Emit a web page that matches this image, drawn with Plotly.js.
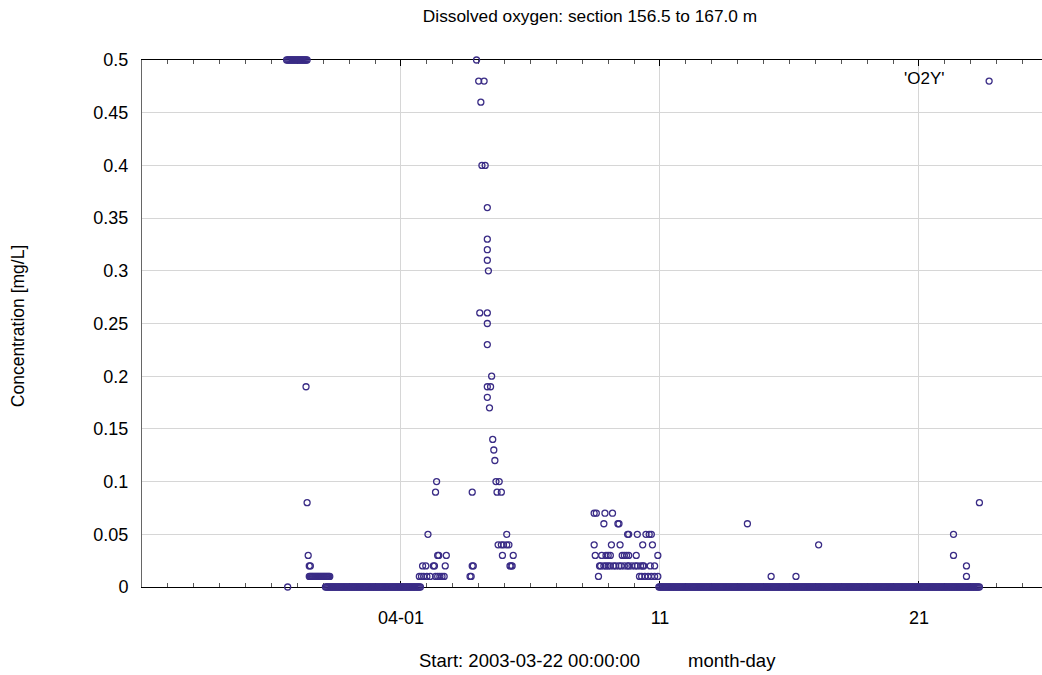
<!DOCTYPE html>
<html>
<head>
<meta charset="utf-8">
<script src="https://cdn.plot.ly/plotly-3.0.1.min.js"></script>
<style>
  html, body { margin: 0; padding: 0; background: #fff; }
  #chart { width: 1042px; height: 675px; }
</style>
</head>
<body>
<div id="chart"></div>
<script>
// Dissolved oxygen readings over the 156.5-167.0 m section.
// Times are hours after the series start (2003-03-22 00:00:00).
const seriesStart = Date.UTC(2003, 2, 22, 0, 0, 0);

// Late March: saturated readings, then a drop towards zero
const hoursMarch = [134,135,136,137,138,139,140,141,142,143,
  144,145,146,147,148,149,150,151,152,153,
  135,
  152,153,154,155,156,
  155,156,157,158,159,160,161,162,163,164,
  165,166,167,168,169,170,171,172,173,174];
const concMarch = [0.5,0.5,0.5,0.5,0.5,0.5,0.5,0.5,0.5,0.5,
  0.5,0.5,0.5,0.5,0.5,0.5,0.5,0.5,0.5,0.5,
  0,
  0.19,0.08,0.03,0.02,0.02,
  0.01,0.01,0.01,0.01,0.01,0.01,0.01,0.01,0.01,0.01,
  0.01,0.01,0.01,0.01,0.01,0.01,0.01,0.01,0.01,0.01];

// Late March to 1 April: hourly zero readings
const hoursZeroMarch = [170,171,172,173,174,175,176,177,178,179,
  180,181,182,183,184,185,186,187,188,189,
  190,191,192,193,194,195,196,197,198,199,
  200,201,202,203,204,205,206,207,208,209,
  210,211,212,213,214,215,216,217,218,219,
  220,221,222,223,224,225,226,227,228,229,
  230,231,232,233,234,235,236,237,238,239,
  240,241,242,243,244,245,246,247,248,249,
  250,251,252,253,254,255,256,257,258];
const concZeroMarch = [0,0,0,0,0,0,0,0,0,0,
  0,0,0,0,0,0,0,0,0,0,
  0,0,0,0,0,0,0,0,0,0,
  0,0,0,0,0,0,0,0,0,0,
  0,0,0,0,0,0,0,0,0,0,
  0,0,0,0,0,0,0,0,0,0,
  0,0,0,0,0,0,0,0,0,0,
  0,0,0,0,0,0,0,0,0,0,
  0,0,0,0,0,0,0,0,0];

// Early April: the main peak
const hoursEarlyApril = [257,259,261,264,267,272,274,276,278,280,304,305,
  260,263,270,271,281,306,307,341,342,343,
  274,275,282,334,344,
  330,333,335,338,340,
  265,338,
  272,306,329,333,
  273,328,331,
  327,326,325,
  322,320,320,323,324,
  320,320,313,320,
  321,320,320,320,320,
  315,318,314,312,317,310];
const concEarlyApril = [0.01,0.01,0.01,0.01,0.01,0.01,0.01,0.01,0.01,0.01,0.01,0.01,
  0.02,0.02,0.02,0.02,0.02,0.02,0.02,0.02,0.02,0.02,
  0.03,0.03,0.03,0.03,0.03,
  0.04,0.04,0.04,0.04,0.04,
  0.05,0.05,
  0.09,0.09,0.09,0.09,
  0.1,0.1,0.1,
  0.12,0.13,0.14,
  0.17,0.18,0.19,0.19,0.2,
  0.23,0.25,0.26,0.26,
  0.3,0.31,0.32,0.33,0.36,
  0.4,0.4,0.46,0.48,0.48,0.5];

// April 9-11: low readings before the long zero run
const hoursMidApril = [419,421,429,436,
  428,441,442,
  450,451,459,467,470,472,
  419,435,443,464,473,
  420,426,430,432,434,445,447,449,451,458,478,
  424,425,428,430,432,434,437,439,442,444,447,450,451,454,457,459,462,464,465,471,475,
  423,461,463,466,469,472,475,478];
const concMidApril = [0.07,0.07,0.07,0.07,
  0.06,0.06,0.06,
  0.05,0.05,0.05,0.05,0.05,0.05,
  0.04,0.04,0.04,0.04,0.04,
  0.03,0.03,0.03,0.03,0.03,0.03,0.03,0.03,0.03,0.03,0.03,
  0.02,0.02,0.02,0.02,0.02,0.02,0.02,0.02,0.02,0.02,0.02,0.02,0.02,0.02,0.02,0.02,0.02,0.02,0.02,0.02,0.02,
  0.01,0.01,0.01,0.01,0.01,0.01,0.01,0.01];

// 11 to 24 April: hourly zero readings
const hoursZeroApril = [479,
  480,481,482,483,484,485,486,487,488,489,
  490,491,492,493,494,495,496,497,498,499,
  500,501,502,503,504,505,506,507,508,509,
  510,511,512,513,514,515,516,517,518,519,
  520,521,522,523,524,525,526,527,528,529,
  530,531,532,533,534,535,536,537,538,539,
  540,541,542,543,544,545,546,547,548,549,
  550,551,552,553,554,555,556,557,558,559,
  560,561,562,563,564,565,566,567,568,569,
  570,571,572,573,574,575,576,577,578,579,
  580,581,582,583,584,585,586,587,588,589,
  590,591,592,593,594,595,596,597,598,599,
  600,601,602,603,604,605,606,607,608,609,
  610,611,612,613,614,615,616,617,618,619,
  620,621,622,623,624,625,626,627,628,629,
  630,631,632,633,634,635,636,637,638,639,
  640,641,642,643,644,645,646,647,648,649,
  650,651,652,653,654,655,656,657,658,659,
  660,661,662,663,664,665,666,667,668,669,
  670,671,672,673,674,675,676,677,678,679,
  680,681,682,683,684,685,686,687,688,689,
  690,691,692,693,694,695,696,697,698,699,
  700,701,702,703,704,705,706,707,708,709,
  710,711,712,713,714,715,716,717,718,719,
  720,721,722,723,724,725,726,727,728,729,
  730,731,732,733,734,735,736,737,738,739,
  740,741,742,743,744,745,746,747,748,749,
  750,751,752,753,754,755,756,757,758,759,
  760,761,762,763,764,765,766,767,768,769,
  770,771,772,773,774,775,776];
const concZeroApril = [0,
  0,0,0,0,0,0,0,0,0,0,
  0,0,0,0,0,0,0,0,0,0,
  0,0,0,0,0,0,0,0,0,0,
  0,0,0,0,0,0,0,0,0,0,
  0,0,0,0,0,0,0,0,0,0,
  0,0,0,0,0,0,0,0,0,0,
  0,0,0,0,0,0,0,0,0,0,
  0,0,0,0,0,0,0,0,0,0,
  0,0,0,0,0,0,0,0,0,0,
  0,0,0,0,0,0,0,0,0,0,
  0,0,0,0,0,0,0,0,0,0,
  0,0,0,0,0,0,0,0,0,0,
  0,0,0,0,0,0,0,0,0,0,
  0,0,0,0,0,0,0,0,0,0,
  0,0,0,0,0,0,0,0,0,0,
  0,0,0,0,0,0,0,0,0,0,
  0,0,0,0,0,0,0,0,0,0,
  0,0,0,0,0,0,0,0,0,0,
  0,0,0,0,0,0,0,0,0,0,
  0,0,0,0,0,0,0,0,0,0,
  0,0,0,0,0,0,0,0,0,0,
  0,0,0,0,0,0,0,0,0,0,
  0,0,0,0,0,0,0,0,0,0,
  0,0,0,0,0,0,0,0,0,0,
  0,0,0,0,0,0,0,0,0,0,
  0,0,0,0,0,0,0,0,0,0,
  0,0,0,0,0,0,0,0,0,0,
  0,0,0,0,0,0,0,0,0,0,
  0,0,0,0,0,0,0,0,0,0,
  0,0,0,0,0,0,0];

// Late April: isolated readings above zero
const hoursLateApril = [561,583,606,627,752,752,764,764,776,785];
const concLateApril = [0.06,0.01,0.01,0.04,0.03,0.05,0.02,0.01,0.08,0.48];

// Axis labelling
const majorTickDates = ['2003-04-01', '2003-04-11', '2003-04-21'];
const majorTickText = ['04-01', '11', '21'];
const axisStartLabel = 'Start: 2003-03-22 00:00:00';
const axisUnitLabel = 'month-day';
const seriesName = "'O2Y'";

function toDateString(h) {
  const iso = new Date(seriesStart + h * 3600e3).toISOString();
  return iso.slice(0, 19).replace('T', ' ');
}

const allHours = [].concat(hoursMarch, hoursZeroMarch, hoursEarlyApril,
  hoursMidApril, hoursZeroApril, hoursLateApril);
const allConc = [].concat(concMarch, concZeroMarch, concEarlyApril,
  concMidApril, concZeroApril, concLateApril);

const markColor = '#3a2c86';
const font = 'Liberation Sans, Arial, sans-serif';

const trace = {
  type: 'scatter',
  mode: 'markers',
  name: seriesName,
  x: allHours.map(toDateString),
  y: allConc,
  cliponaxis: false,
  marker: {
    symbol: 'circle-open',
    size: 6,
    color: markColor,
    line: { width: 1.3, color: markColor }
  },
  hoverinfo: 'x+y'
};

const layout = {
  width: 1042,
  height: 675,
  margin: { l: 142, r: 0, t: 60, b: 88 },
  paper_bgcolor: '#fff',
  plot_bgcolor: '#fff',
  showlegend: false,
  font: { family: font, size: 17, color: '#000' },
  title: {
    text: 'Dissolved oxygen: section 156.5 to 167.0 m',
    font: { family: font, size: 17.3, color: '#000' },
    xref: 'container', x: 590 / 1042, xanchor: 'center',
    yref: 'container', y: 1 - 16 / 675, yanchor: 'middle'
  },
  xaxis: {
    type: 'date',
    range: ['2003-03-22 00:00:00', '2003-04-25 18:00:00'],
    tickmode: 'array',
    tickvals: majorTickDates,
    ticktext: majorTickText,
    ticks: 'inside',
    ticklen: 6,
    tickcolor: '#000',
    tickfont: { family: font, size: 18, color: '#000' },
    ticklabelstandoff: 14,
    showgrid: true,
    gridcolor: '#d6d6d6',
    gridwidth: 1,
    showline: true,
    linecolor: '#000',
    linewidth: 1,
    mirror: 'allticks',
    zeroline: false,
    layer: 'below traces',
    minor: {
      tickmode: 'linear',
      tick0: '2003-03-22',
      dtick: 86400000,
      ticks: 'inside',
      ticklen: 4,
      tickcolor: '#555',
      showgrid: false
    }
  },
  yaxis: {
    range: [0, 0.5],
    dtick: 0.05,
    tick0: 0,
    ticks: '',
    tickfont: { family: font, size: 18, color: '#000' },
    ticklabelstandoff: 9,
    showgrid: true,
    gridcolor: '#d6d6d6',
    gridwidth: 1,
    showline: true,
    linecolor: '#666',
    linewidth: 1,
    zeroline: false,
    layer: 'below traces'
  },
  annotations: [
    {
      text: 'Concentration [mg/L]',
      xref: 'paper', yref: 'paper',
      x: (18 - 142) / 900, y: 0.495,
      xanchor: 'center', yanchor: 'middle',
      textangle: -90, showarrow: false,
      font: { family: font, size: 17.5, color: '#000' }
    },
    {
      text: axisStartLabel,
      xref: 'paper', yref: 'paper',
      x: (417 - 142) / 900, y: (587 - 660) / 527,
      xanchor: 'left', yanchor: 'middle',
      showarrow: false,
      font: { family: font, size: 18.5, color: '#000' }
    },
    {
      text: axisUnitLabel,
      xref: 'paper', yref: 'paper',
      x: (686 - 142) / 900, y: (587 - 660) / 527,
      xanchor: 'left', yanchor: 'middle',
      showarrow: false,
      font: { family: font, size: 18.5, color: '#000' }
    },
    {
      text: seriesName,
      xref: 'paper', yref: 'paper',
      x: (924 - 142) / 900, y: (587 - 79) / 527,
      xanchor: 'center', yanchor: 'middle',
      showarrow: false,
      font: { family: font, size: 17, color: '#000' }
    }
  ]
};

Plotly.newPlot('chart', [trace], layout, { displayModeBar: false, staticPlot: true });
</script>
</body>
</html>
